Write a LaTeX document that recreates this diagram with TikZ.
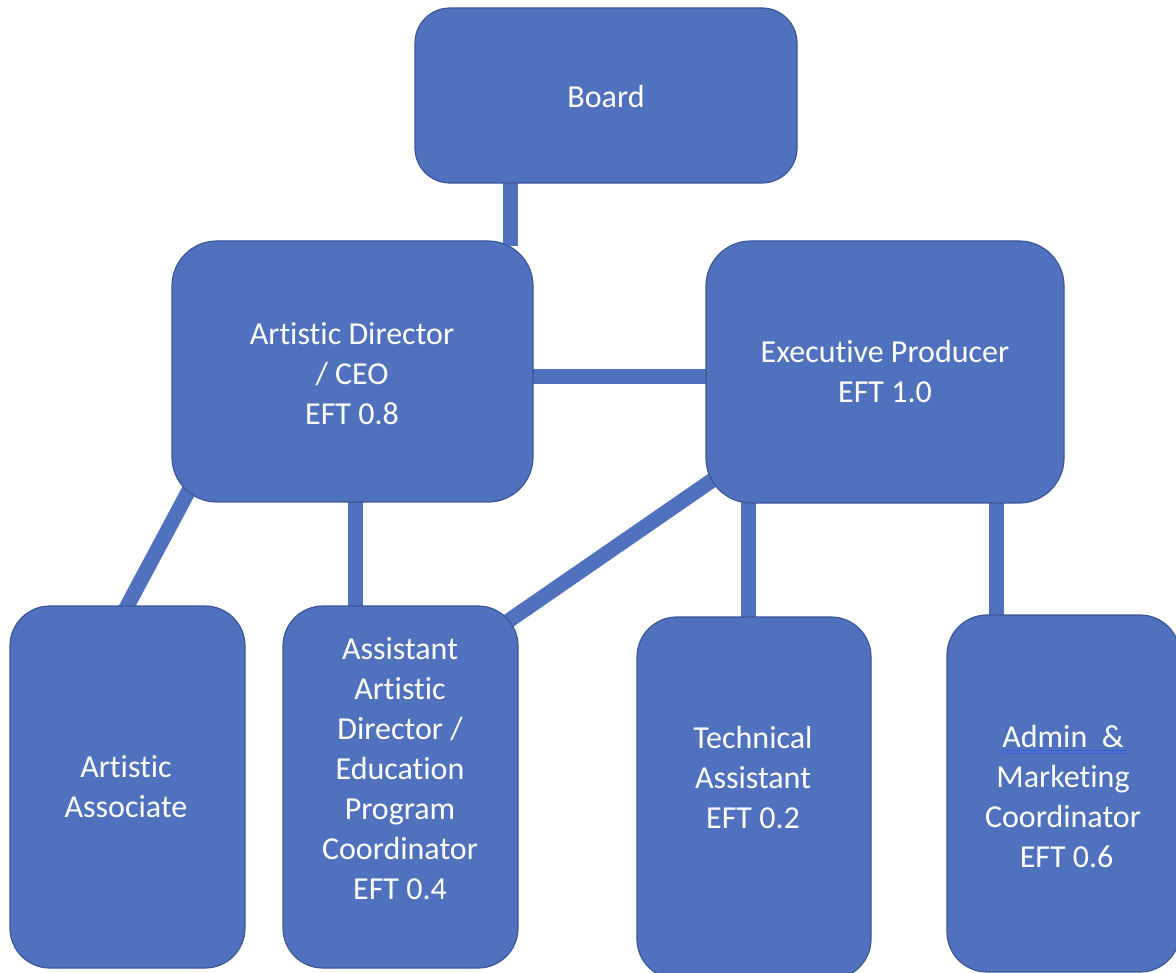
\documentclass[tikz,border=0pt]{standalone}
\usepackage{fontspec}
\setmainfont{Carlito}[RawFeature={-liga;-clig;-dlig;-calt;-rlig}]
\usetikzlibrary{backgrounds,calc}
\definecolor{boxblue}{RGB}{80,114,190}
\definecolor{edgeblue}{RGB}{60,86,150}
\definecolor{spellblue}{RGB}{55,95,225}
\newcommand\tiNoLig{t\kern0pt i}
\begin{document}
\begin{tikzpicture}[x=1pt,y=-1pt,
  box/.style={draw=edgeblue,line width=1.2pt,fill=boxblue,rounded corners=#1,inner sep=0pt},
  box/.default=40pt,
  txt/.style={text=white,font=\fontsize{32}{40}\selectfont,align=center,inner sep=0pt},
  conn/.style={draw=boxblue,line width=15pt,shorten <=-6pt,shorten >=-6pt},
  spell/.style={draw=spellblue,line width=1pt}]
\clip (0,0) rectangle (1176,973);
% boxes
\node[box=35pt,minimum width=382pt,minimum height=175pt] (board) at (606,95.5) {};
\node[box=45pt,minimum width=361pt,minimum height=261pt] (AD) at (352.5,371.5) {};
\node[box=45pt,minimum width=358pt,minimum height=262pt] (EP) at (885,372) {};
\node[box,minimum width=235pt,minimum height=362pt] (AA) at (127.5,787) {};
\node[box,minimum width=235pt,minimum height=362pt] (AS) at (400.5,787) {};
\node[box,minimum width=234pt,minimum height=362pt] (TA) at (754,798) {};
\node[box,minimum width=233pt,minimum height=357pt] (AM) at (1063.5,793.5) {};
% texts
\node[txt] (tboard) at (606,97) {Board};
\node[txt] (tAD) at (352,374) {Artis\tiNoLig c Director\\/ CEO\\EFT 0.8};
\node[txt] (tEP) at (885,372) {Execu\tiNoLig ve Producer\\EFT 1.0};
\node[txt] (tAA) at (126,787) {Artis\tiNoLig c\\Associate};
\node[txt] (tAS) at (400,769) {Assistant\\Artis\tiNoLig c\\Director /\\Educa\tiNoLig on\\Program\\Coordinator\\EFT 0.4};
\node[txt] (tTA) at (753,778) {Technical\\Assistant\\EFT 0.2};
\node[txt] (tAM) at (1063,797) {Admin\ \ \&\\Marke\tiNoLig ng\\Coordinator\\\ EFT 0.6};
\draw[spell] (1003,750.5) -- (1127,750.5);
\draw[spell] (1003,753.5) -- (1127,753.5);
% connectors
\begin{pgfonlayer}{background}
\draw[conn] ([xshift=-96pt]board.south) -- ([xshift=-96pt]board.south |- AD.north);
\draw[conn] ([yshift=-5.5pt]AD.east) -- ([yshift=-5.5pt]AD.east -| EP.west);
\draw[conn] ([xshift=-45.5pt]AS.north) -- ([xshift=-45.5pt]AS.north |- AD.south);
\draw[conn] ([xshift=-6pt]TA.north) -- ([xshift=-6pt]TA.north |- EP.south);
\draw[conn] ([xshift=-67.5pt]AM.north) -- ([xshift=-67.5pt]AM.north |- EP.south);
\draw[conn,shorten <=-20pt,shorten >=-20pt] ([xshift=11pt]AD.south west) -- (AA.north);
\draw[conn,shorten <=-70pt,shorten >=-25pt] ([xshift=-27pt]EP.south west) -- ([yshift=-8.5pt]AS.north east);
\end{pgfonlayer}
\end{tikzpicture}
\end{document}
